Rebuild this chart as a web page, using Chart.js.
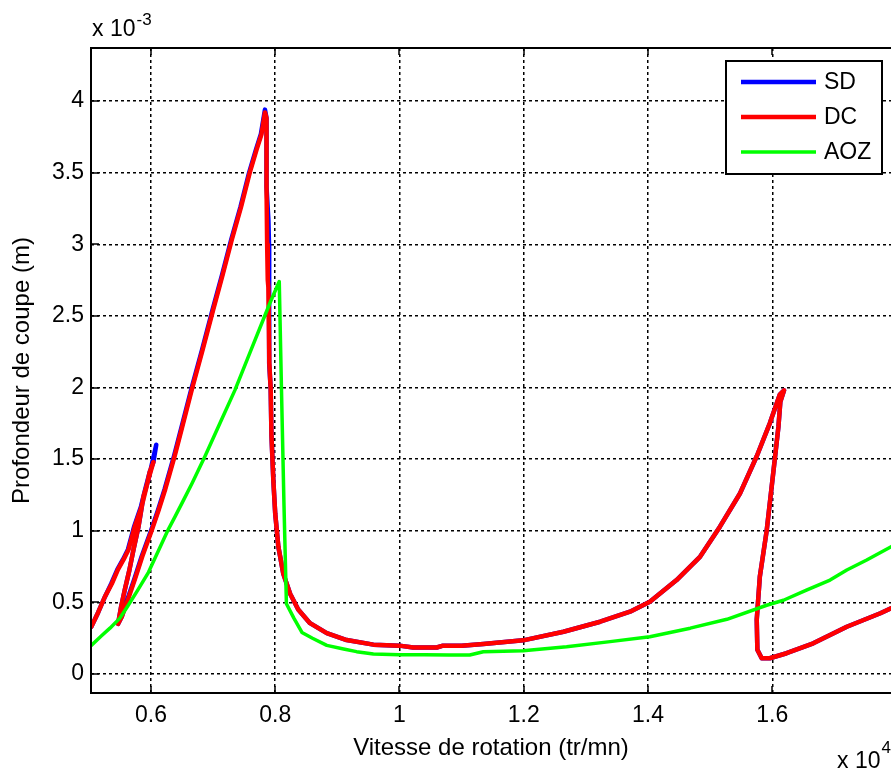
<!DOCTYPE html>
<html>
<head>
<meta charset="utf-8">
<script src="https://cdn.jsdelivr.net/npm/chart.js@4.4.0/dist/chart.umd.min.js"></script>
<style>
  body { margin: 0; background: #fff; }
  #wrap { width: 891px; height: 771px; }
</style>
</head>
<body>
<div id="wrap"><canvas id="mychart" width="891" height="771"></canvas></div>
<script>
// speeds are in units of 1e4 tr/mn, depths in units of 1e-3 m
let xTicks = [0.6, 0.8, 1, 1.2, 1.4, 1.6];
let yTicks = [0, 0.5, 1, 1.5, 2, 2.5, 3, 3.5, 4];

let dcX = [0.504,0.515,0.526,0.537,0.547,0.556,0.564,0.574,0.585,0.593,0.598,0.604,
  0.596,0.588,0.580,0.572,0.565,0.558,0.552,0.547,
  0.553,0.563,0.574,0.586,0.601,0.612,0.623,0.638,0.650,0.666,0.683,0.700,0.715,0.730,0.745,0.759,0.770,0.778,0.7835,0.786,
  0.786,0.787,0.788,0.789,0.7905,0.7927,0.794,0.797,0.800,0.805,0.813,0.824,0.837,0.856,0.883,0.915,0.958,1.000,1.022,1.060,
  1.070,1.100,1.135,1.199,1.264,1.323,1.371,1.403,1.446,1.484,1.516,1.548,1.575,1.596,1.612,1.619,
  1.613,1.610,1.602,1.591,1.580,1.575,1.576,1.583,1.596,1.623,1.666,1.720,1.774,1.792];
let dcY = [0.33,0.43,0.54,0.63,0.73,0.80,0.87,1.03,1.17,1.31,1.41,1.48,
  1.36,1.24,1.03,0.87,0.72,0.59,0.47,0.35,
  0.40,0.52,0.66,0.82,1.00,1.14,1.29,1.52,1.72,1.99,2.26,2.54,2.78,3.03,3.26,3.50,3.66,3.77,3.92,3.88,
  3.40,3.00,2.75,2.70,2.17,1.99,1.66,1.35,1.12,0.89,0.70,0.56,0.45,0.355,0.285,0.237,0.205,0.198,0.185,0.185,
  0.198,0.198,0.21,0.235,0.295,0.365,0.435,0.505,0.656,0.82,1.03,1.26,1.52,1.75,1.95,1.98,
  1.90,1.73,1.42,1.00,0.68,0.38,0.17,0.11,0.11,0.145,0.214,0.33,0.424,0.46];

let sdX = [0.504,0.515,0.526,0.536,0.546,0.555,0.563,0.573,0.584,0.592,0.598,0.604,0.6085,
  0.596,0.588,0.580,0.572,0.565,0.558,0.552,0.547,
  0.553,0.562,0.573,0.585,0.600,0.611,0.622,0.637,0.649,0.665,0.682,0.699,0.714,0.729,0.744,0.758,0.769,0.777,0.7835,0.786,
  0.786,0.789,0.790,0.790,0.7905,0.7927,0.794,0.797,0.800,0.805,0.813,0.824,0.837,0.856,0.883,0.915,0.958,1.000,1.022,1.060,
  1.070,1.100,1.135,1.199,1.264,1.323,1.371,1.403,1.446,1.484,1.516,1.548,1.575,1.596,1.612,1.619,
  1.613,1.610,1.602,1.591,1.580,1.575,1.576,1.583,1.596,1.623,1.666,1.720,1.774,1.792];
let sdY = [0.33,0.43,0.54,0.63,0.73,0.80,0.87,1.03,1.17,1.31,1.41,1.48,1.60,
  1.36,1.24,1.03,0.87,0.72,0.59,0.47,0.35,
  0.40,0.52,0.66,0.82,1.00,1.14,1.29,1.52,1.72,1.99,2.26,2.54,2.78,3.03,3.26,3.50,3.66,3.77,3.94,3.88,
  3.40,3.17,3.00,2.75,2.17,1.99,1.66,1.35,1.12,0.89,0.70,0.56,0.45,0.355,0.285,0.237,0.205,0.198,0.185,0.185,
  0.198,0.198,0.21,0.235,0.295,0.365,0.435,0.505,0.656,0.82,1.03,1.26,1.52,1.75,1.95,1.98,
  1.90,1.73,1.42,1.00,0.68,0.38,0.17,0.11,0.11,0.145,0.214,0.33,0.424,0.46];

let aozX = [0.504,0.520,0.534,0.550,0.562,0.578,0.596,0.612,0.628,0.639,0.652,0.666,0.687,0.711,0.735,0.760,0.7915,0.8065,0.810,0.814,
  0.818,0.830,0.843,0.860,0.883,0.910,0.931,0.958,1.000,1.040,1.080,1.113,1.135,1.199,1.269,1.339,1.403,1.468,1.527,1.591,
  1.618,1.655,1.693,1.720,1.752,1.792];
let aozY = [0.20,0.265,0.32,0.39,0.47,0.58,0.71,0.86,1.01,1.10,1.21,1.33,1.52,1.75,1.98,2.25,2.59,2.74,2.00,1.20,
  0.49,0.39,0.29,0.25,0.20,0.175,0.156,0.14,0.135,0.135,0.133,0.133,0.155,0.163,0.19,0.226,0.26,0.32,0.382,0.48,
  0.515,0.586,0.656,0.726,0.796,0.89];

const FONT = "'Liberation Sans', Arial, Helvetica, sans-serif";

function pts(xs, ys) {
  return xs.map((x, i) => ({x: x, y: ys[i]}));
}

function curve(label, xs, ys, color, width, order) {
  return {
    label: label,
    data: pts(xs, ys),
    showLine: true,
    borderColor: color,
    backgroundColor: color,
    borderWidth: width,
    borderJoinStyle: 'round',
    borderCapStyle: 'round',
    pointRadius: 0,
    tension: 0,
    fill: false,
    order: order
  };
}

// box, inner ticks, exponents and legend drawn on top of the plot
const matlabFrame = {
  id: 'matlabFrame',
  afterDraw(chart) {
    const ctx = chart.ctx;
    const a = chart.chartArea;
    const xs = chart.scales.x, ys = chart.scales.y;
    ctx.save();
    ctx.strokeStyle = '#000';
    ctx.lineWidth = 1.5;
    ctx.beginPath();
    xTicks.forEach(v => {
      const px = Math.round(xs.getPixelForValue(v));
      ctx.moveTo(px, a.bottom); ctx.lineTo(px, a.bottom - 7);
      ctx.moveTo(px, a.top); ctx.lineTo(px, a.top + 7);
    });
    yTicks.forEach(v => {
      const py = Math.round(ys.getPixelForValue(v));
      ctx.moveTo(a.left, py); ctx.lineTo(a.left + 8, py);
    });
    ctx.stroke();

    ctx.lineWidth = 2;
    ctx.beginPath();
    ctx.moveTo(a.right + 5, a.top);
    ctx.lineTo(a.left, a.top);
    ctx.lineTo(a.left, a.bottom);
    ctx.lineTo(a.right + 5, a.bottom);
    ctx.stroke();

    // axis multipliers
    ctx.fillStyle = '#000';
    ctx.textAlign = 'left';
    ctx.textBaseline = 'alphabetic';
    ctx.font = '23px ' + FONT;
    ctx.fillText('x 10', a.left + 1, 36);
    let w = ctx.measureText('x 10').width;
    ctx.font = '17px ' + FONT;
    ctx.fillText('-3', a.left + 2 + w, 25);

    ctx.font = '23px ' + FONT;
    ctx.fillText('x 10', a.right - 54, 768);
    w = ctx.measureText('x 10').width;
    ctx.font = '17px ' + FONT;
    ctx.fillText('4', a.right - 53 + w, 753);

    // legend box
    const bx = a.right - 165, by = a.top + 13, bw = 156, bh = 113;
    ctx.fillStyle = '#fff';
    ctx.fillRect(bx, by, bw, bh);
    ctx.lineWidth = 2;
    ctx.strokeRect(bx, by, bw, bh);
    ctx.font = '23px ' + FONT;
    ctx.textBaseline = 'middle';
    chart.data.datasets.forEach((ds, i) => {
      const ly = by + 21 + i * 35;
      ctx.strokeStyle = ds.borderColor;
      ctx.lineWidth = ds.borderWidth;
      ctx.beginPath();
      ctx.moveTo(bx + 15, ly);
      ctx.lineTo(bx + 90, ly);
      ctx.stroke();
      ctx.fillStyle = '#000';
      ctx.fillText(ds.label, bx + 98, ly + 1);
    });
    ctx.restore();
  }
};

let ctx = document.getElementById('mychart').getContext('2d');
let myChart = new Chart(ctx, {
  type: 'scatter',
  data: {
    datasets: [
      curve('SD', sdX, sdY, '#0000ff', 4.5, 2),
      curve('DC', dcX, dcY, '#ff0000', 4.5, 1),
      curve('AOZ', aozX, aozY, '#00ff00', 3.5, 0)
    ]
  },
  options: {
    responsive: false,
    animation: false,
    events: [],
    layout: { padding: { top: 48, right: 0, bottom: 0, left: 0 } },
    plugins: {
      legend: { display: false },
      tooltip: { enabled: false }
    },
    scales: {
      x: {
        type: 'linear',
        min: 0.5035,
        max: 1.7911,
        afterBuildTicks: s => { s.ticks = xTicks.map(v => ({value: v})); },
        afterFit: s => { s.height = 78; },
        ticks: {
          color: '#000',
          font: { size: 23, family: FONT },
          padding: 9,
          maxRotation: 0,
          autoSkip: false,
          callback: v => String(v)
        },
        grid: { color: '#000', lineWidth: 1.5, drawTicks: false },
        border: { display: false, dash: [3, 3] },
        title: {
          display: true,
          text: 'Vitesse de rotation (tr/mn)',
          color: '#000',
          font: { size: 24, family: FONT },
          padding: { top: 0, bottom: 8 }
        }
      },
      y: {
        type: 'linear',
        min: -0.1326,
        max: 4.37,
        afterBuildTicks: s => { s.ticks = yTicks.map(v => ({value: v})); },
        afterFit: s => { s.width = 91; },
        ticks: {
          color: '#000',
          font: { size: 23, family: FONT },
          padding: 7,
          autoSkip: false,
          callback: v => String(v)
        },
        grid: { color: '#000', lineWidth: 1.5, drawTicks: false },
        border: { display: false, dash: [3, 3] },
        title: {
          display: true,
          text: 'Profondeur de coupe (m)',
          color: '#000',
          font: { size: 24, family: FONT },
          padding: { top: 8, bottom: 0 }
        }
      }
    }
  },
  plugins: [matlabFrame]
});
</script>
</body>
</html>
